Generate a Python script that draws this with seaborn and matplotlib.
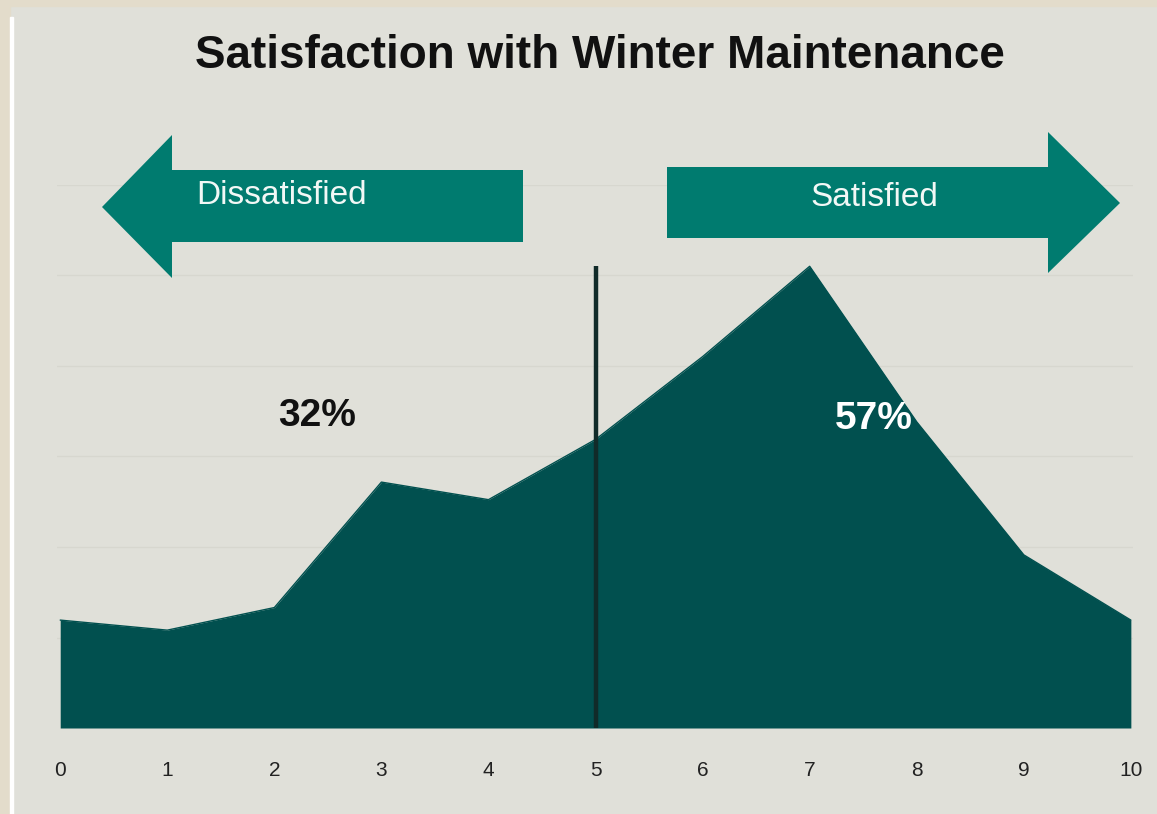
import numpy as np
import pandas as pd
import seaborn as sns
import matplotlib.pyplot as plt
from matplotlib.patches import Polygon, Rectangle

# Share of respondents (%) for each score on the 0-10 scale
scores = [0, 1, 2, 3, 4, 5, 6, 7, 8, 9, 10]
shares = [4.3, 3.9, 4.8, 9.8, 9.1, 11.5, 14.8, 18.4, 12.2, 6.9, 4.3]
tick_labels = [str(s) for s in scores]
dissatisfied_label = "32%"
satisfied_label = "57%"
title = "Satisfaction with Winter Maintenance"

df = pd.DataFrame({"score": scores, "share": shares})

bg = "#E0E0D9"
fill = "#01504F"
arrow_col = "#007B6F"

sns.set_theme(style="white")
plt.rcParams["font.family"] = ["Liberation Sans", "DejaVu Sans"]

W, H = 1157, 814
fig = plt.figure(figsize=(W / 100, H / 100), dpi=100)
fig.patch.set_facecolor(bg)


def fx(px):
    return px / W


def fy(py):
    return 1 - py / H


# outer frame strips
fig.patches.append(Rectangle((0, 0), fx(10), 1, transform=fig.transFigure,
                             color="#E3DCCB", zorder=0))
fig.patches.append(Rectangle((0, fy(6)), 1, 6 / H, transform=fig.transFigure,
                             color="#E3DCCB", zorder=0))
fig.patches.append(Rectangle((fx(10), 0), fx(3), fy(17), transform=fig.transFigure,
                             color="#FFFFFF", zorder=0))

ax = fig.add_axes([fx(57), fy(728), fx(1133 - 57), fy(185) - fy(728)])
ax.set_facecolor(bg)

step = 21.64 / 6
ax.set_ylim(0, 6 * step)
ax.set_xlim(-0.03, 10.02)
ax.set_yticks(np.arange(1, 7) * step)
ax.yaxis.grid(True, color="#D7D7CF", linewidth=1)
ax.set_axisbelow(True)

ax.fill_between(df["score"], df["share"], color=fill, linewidth=0, zorder=2)
sns.lineplot(data=df, x="score", y="share", color=fill, linewidth=1, ax=ax, zorder=2)

# divider at the neutral score
ax.vlines(5, 0, max(shares), color="#112B29", linewidth=3.2, zorder=3)

ax.set_xticks(scores)
ax.set_xticklabels(tick_labels, fontsize=15, color="#222222")
ax.tick_params(axis="x", length=0, pad=24)
ax.set_yticklabels([])
ax.tick_params(axis="y", length=0)
ax.set_xlabel("")
ax.set_ylabel("")
for s in ax.spines.values():
    s.set_visible(False)

ax.text(2.4, 12.45, dissatisfied_label, fontsize=28, fontweight="bold",
        color="#111111", ha="center", va="center", zorder=4)
ax.text(7.6, 12.3, satisfied_label, fontsize=28, fontweight="bold",
        color="#FFFFFF", ha="center", va="center", zorder=4)

fig.text(fx(600), fy(56), title, fontsize=33, fontweight="bold",
         color="#111111", ha="center", va="center")

# direction arrows
left_arrow = [(102, 207), (172, 135), (172, 170), (523, 170), (523, 242),
              (172, 242), (172, 278)]
right_arrow = [(667, 167), (1048, 167), (1048, 132), (1120, 203), (1048, 273),
               (1048, 238), (667, 238)]
for pts in (left_arrow, right_arrow):
    fig.patches.append(Polygon([(fx(x), fy(y)) for x, y in pts], closed=True,
                               transform=fig.transFigure, facecolor=arrow_col,
                               edgecolor="none", zorder=1))

fig.text(fx(282), fy(196), "Dissatisfied", fontsize=24, color="#F2F8F6",
         ha="center", va="center")
fig.text(fx(874), fy(198), "Satisfied", fontsize=24, color="#F2F8F6",
         ha="center", va="center")

fig.savefig("out.png", dpi=100, facecolor=fig.get_facecolor())
